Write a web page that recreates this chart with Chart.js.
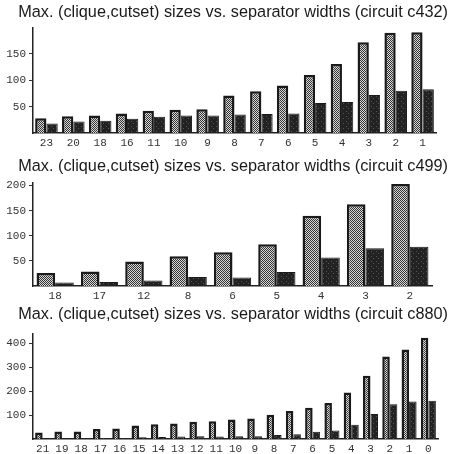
<!DOCTYPE html>
<html>
<head>
<meta charset="utf-8">
<script src="https://cdn.jsdelivr.net/npm/chart.js@4"></script>
<style>
  body { margin: 0; background: #fff; }
  .box { position: absolute; left: 0; width: 450px; }
</style>
</head>
<body>
<div class="box" style="top:0;height:150px"><canvas id="c432"></canvas></div>
<div class="box" style="top:150px;height:150px"><canvas id="c499"></canvas></div>
<div class="box" style="top:300px;height:154px"><canvas id="c880"></canvas></div>
<script>
// separator widths and max (clique, cutset) sizes
const c432Labels = ["23", "20", "18", "16", "11", "10", "9", "8", "7", "6", "5", "4", "3", "2", "1"];
const c432Clique = [28, 32, 33, 37, 42, 44, 45, 71, 79, 90, 110, 131, 172, 190, 191];
const c432Cutset = [18, 22, 23, 27, 31, 33, 33, 35, 36, 37, 57, 59, 72, 80, 83];

const c499Labels = ["18", "17", "12", "8", "6", "5", "4", "3", "2"];
const c499Clique = [26, 29, 49, 59, 67, 83, 140, 163, 203];
const c499Cutset = [7, 8, 11, 18, 17, 28, 57, 75, 78];

const c880Labels = ["21", "19", "18", "17", "16", "15", "14", "13", "12", "11", "10", "9", "8", "7", "6", "5", "4", "3", "2", "1", "0"];
const c880Clique = [27, 31, 31, 42, 44, 56, 62, 65, 72, 74, 81, 86, 101, 117, 130, 150, 194, 264, 344, 373, 423];
const c880Cutset = [3, 3, 3, 4, 4, 7, 8, 10, 11, 10, 11, 11, 17, 20, 30, 35, 59, 104, 145, 156, 160];

// checkered fill for clique bars
function checkerPattern() {
    const c = document.createElement("canvas");
    c.width = 2; c.height = 2;
    const g = c.getContext("2d");
    g.fillStyle = "#d8d8d8";
    g.fillRect(0, 0, 2, 2);
    g.fillStyle = "#333";
    g.fillRect(0, 0, 1, 1);
    g.fillRect(1, 1, 1, 1);
    return g.createPattern(c, "repeat");
}

// dark stipple for cutset bars
function stipplePattern() {
    const c = document.createElement("canvas");
    c.width = 5; c.height = 5;
    const g = c.getContext("2d");
    g.fillStyle = "#222";
    g.fillRect(0, 0, 5, 5);
    g.fillStyle = "#555";
    g.fillRect(1, 1, 1, 1);
    g.fillRect(3, 3, 1, 1);
    return g.createPattern(c, "repeat");
}

function makeChart(id, title, labels, clique, cutset, yMax, step, opts) {
    return new Chart(document.getElementById(id).getContext("2d"), {
        type: "bar",
        data: {
            labels: labels,
            datasets: [{
                label: "clique",
                data: clique,
                backgroundColor: checkerPattern(),
                borderColor: "#1a1a1a",
                borderWidth: 2.5,
                barPercentage: 1,
                categoryPercentage: opts.cat
            }, {
                label: "cutset",
                data: cutset,
                backgroundColor: stipplePattern(),
                borderColor: "#1a1a1a",
                borderWidth: 1,
                barPercentage: 1,
                categoryPercentage: opts.cat
            }]
        },
        options: {
            responsive: true,
            maintainAspectRatio: false,
            animation: false,
            layout: { padding: { left: 0, right: 2, top: 0, bottom: 0 } },
            plugins: {
                legend: { display: false },
                tooltip: { enabled: false },
                title: {
                    display: true,
                    text: title,
                    color: "#1a1a1a",
                    align: "end",
                    font: { family: "Liberation Sans", size: 16.3, weight: "normal" },
                    padding: { top: opts.tTop, bottom: opts.tBottom }
                }
            },
            scales: {
                x: {
                    grid: { display: false, drawTicks: false },
                    border: { color: "#222", width: 1.5 },
                    ticks: {
                        color: "#333",
                        font: { family: "Liberation Mono", size: 11 },
                        autoSkip: false,
                        maxRotation: 0,
                        padding: 3
                    },
                    afterFit: s => { s.height = opts.xh; }
                },
                y: {
                    min: 0,
                    max: yMax,
                    grid: { drawOnChartArea: false, tickLength: 4, color: "#333" },
                    border: { color: "#222", width: 1.5 },
                    ticks: {
                        stepSize: step,
                        includeBounds: false,
                        color: "#333",
                        font: { family: "Liberation Mono", size: 11 },
                        padding: 3
                    },
                    afterBuildTicks: s => {
                        s.ticks = s.ticks.filter(t => t.value > 0 && t.value <= opts.topTick);
                    },
                    afterFit: s => { s.width = 33; }
                },
                // empty right gutter so the title can run past the plot
                gutter: {
                    position: "right",
                    grid: { display: false },
                    border: { display: false },
                    ticks: { display: false },
                    afterFit: s => { s.width = opts.gutter; }
                }
            }
        }
    });
}

makeChart("c432", "Max. (clique,cutset) sizes vs. separator widths (circuit c432)",
    c432Labels, c432Clique, c432Cutset, 200, 50,
    { cat: 0.84, gutter: 12, tTop: 3, tBottom: 5, xh: 17, topTick: 150 });

makeChart("c499", "Max. (clique,cutset) sizes vs. separator widths (circuit c499)",
    c499Labels, c499Clique, c499Cutset, 206, 50,
    { cat: 0.84, gutter: 16, tTop: 7, tBottom: 6, xh: 14, topTick: 200 });

makeChart("c880", "Max. (clique,cutset) sizes vs. separator widths (circuit c880)",
    c880Labels, c880Clique, c880Cutset, 440, 100,
    { cat: 0.78, gutter: 10, tTop: 5, tBottom: 9, xh: 15, topTick: 400 });
</script>
</body>
</html>
